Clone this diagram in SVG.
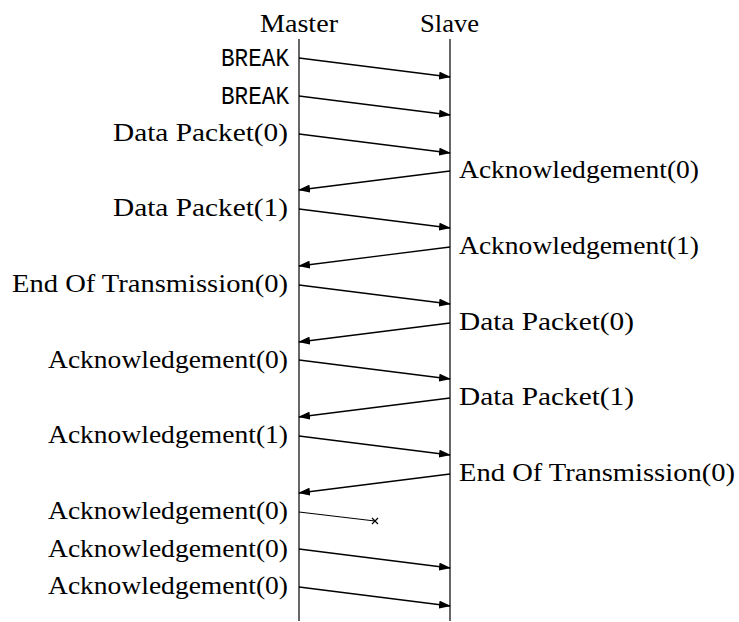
<svg xmlns="http://www.w3.org/2000/svg" width="739" height="622" viewBox="0 0 739 622">
<style>
.t{font-family:"Liberation Serif","DejaVu Serif",serif;font-size:25px;fill:#000}
.m{font-family:"Liberation Mono","DejaVu Sans Mono",monospace;font-size:25px;fill:#000}
.ln{stroke:#000;stroke-width:1.2;fill:none}
.a{stroke:#000;stroke-width:1.3;fill:none;marker-end:url(#ah)}
</style>
<defs>
<marker id="ah" markerWidth="12" markerHeight="8" refX="11" refY="4" orient="auto" markerUnits="userSpaceOnUse">
<path d="M0,0 L12,4 L0,8 Z" fill="#000"/>
</marker>
</defs>
<rect width="739" height="622" fill="#fff"/>
<g id="master">
<text class="t" x="260" y="32" textLength="78" lengthAdjust="spacingAndGlyphs">Master</text>
<line class="ln" x1="299" y1="39" x2="299" y2="621"/>
</g>
<g id="slave">
<text class="t" x="420" y="32" textLength="59" lengthAdjust="spacingAndGlyphs">Slave</text>
<line class="ln" x1="450" y1="39" x2="450" y2="621"/>
</g>
<g id="labels">
<text class="m" x="221" y="66" textLength="68" lengthAdjust="spacingAndGlyphs">BREAK</text>
<text class="m" x="221" y="104" textLength="68" lengthAdjust="spacingAndGlyphs">BREAK</text>
<text class="t" x="113" y="141" textLength="175" lengthAdjust="spacingAndGlyphs">Data Packet(0)</text>
<text class="t" x="459" y="178" textLength="240" lengthAdjust="spacingAndGlyphs">Acknowledgement(0)</text>
<text class="t" x="113" y="216" textLength="175" lengthAdjust="spacingAndGlyphs">Data Packet(1)</text>
<text class="t" x="459" y="254" textLength="240" lengthAdjust="spacingAndGlyphs">Acknowledgement(1)</text>
<text class="t" x="12" y="292" textLength="276" lengthAdjust="spacingAndGlyphs">End Of Transmission(0)</text>
<text class="t" x="459" y="330" textLength="175" lengthAdjust="spacingAndGlyphs">Data Packet(0)</text>
<text class="t" x="48" y="368" textLength="240" lengthAdjust="spacingAndGlyphs">Acknowledgement(0)</text>
<text class="t" x="459" y="405" textLength="175" lengthAdjust="spacingAndGlyphs">Data Packet(1)</text>
<text class="t" x="48" y="443" textLength="240" lengthAdjust="spacingAndGlyphs">Acknowledgement(1)</text>
<text class="t" x="459" y="481" textLength="276" lengthAdjust="spacingAndGlyphs">End Of Transmission(0)</text>
<text class="t" x="48" y="519" textLength="240" lengthAdjust="spacingAndGlyphs">Acknowledgement(0)</text>
<text class="t" x="48" y="557" textLength="240" lengthAdjust="spacingAndGlyphs">Acknowledgement(0)</text>
<text class="t" x="48" y="594" textLength="240" lengthAdjust="spacingAndGlyphs">Acknowledgement(0)</text>
</g>
<g id="connectors">
<line class="a" x1="299" y1="58" x2="450" y2="77"/>
<line class="a" x1="299" y1="96" x2="450" y2="115"/>
<line class="a" x1="299" y1="134" x2="450" y2="153"/>
<line class="a" x1="450" y1="171" x2="299" y2="190"/>
<line class="a" x1="299" y1="209" x2="450" y2="228"/>
<line class="a" x1="450" y1="247" x2="299" y2="266"/>
<line class="a" x1="299" y1="285" x2="450" y2="304"/>
<line class="a" x1="450" y1="323" x2="299" y2="342"/>
<line class="a" x1="299" y1="360" x2="450" y2="379"/>
<line class="a" x1="450" y1="398" x2="299" y2="417"/>
<line class="a" x1="299" y1="436" x2="450" y2="455"/>
<line class="a" x1="450" y1="474" x2="299" y2="493"/>
<line class="ln" x1="299" y1="512" x2="375" y2="521"/>
<path class="ln" d="M372,518 L378,524 M378,518 L372,524"/>
<line class="a" x1="299" y1="549" x2="450" y2="568"/>
<line class="a" x1="299" y1="587" x2="450" y2="606"/>
</g>
</svg>
